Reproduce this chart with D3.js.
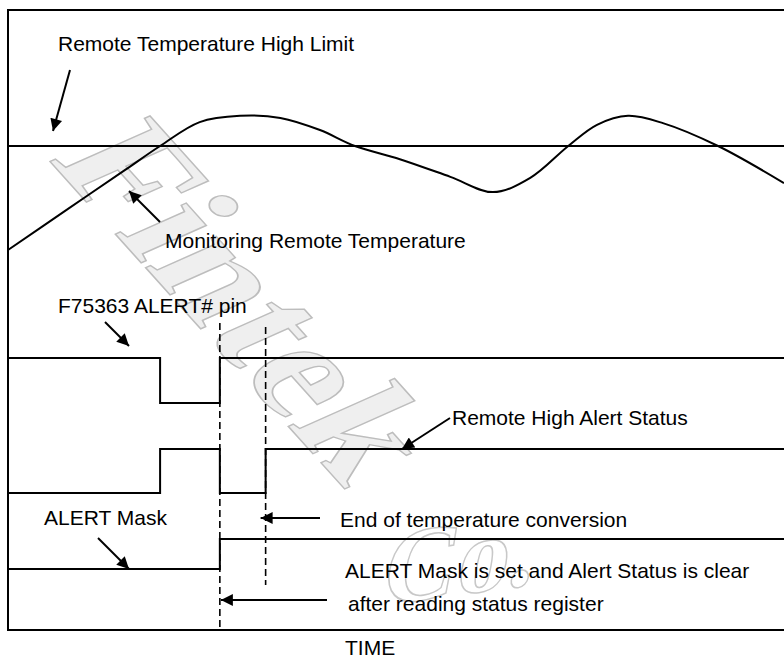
<!DOCTYPE html>
<html>
<head>
<meta charset="utf-8">
<script src="https://cdn.jsdelivr.net/npm/d3@7"></script>
<style>
  body { margin: 0; background: #fff; }
  text.label { font-family: "Liberation Sans", Arial, sans-serif; font-size: 21px; fill: #000; }
  text.wm { font-family: "Liberation Serif", "DejaVu Serif", serif; font-weight: bold; fill: #efefef; stroke: #bdbdbd; stroke-width: 1.5px; }
</style>
</head>
<body>
<div id="chart"></div>
<script>
// time runs 0..100 across the plot
var tempTimes = [0, 7.5, 15.1, 19.6, 24.7, 29.9, 35.1, 40.2, 44.7, 50.5, 57, 62.5, 67.3, 72.2, 75.9, 79.9, 84.4, 91.5, 100];
var tempValues = [50, 61.5, 73.1, 80, 86.9, 88.7, 88.1, 84.6, 80, 76.2, 71.1, 66.7, 70.8, 80, 86.1, 88.7, 86.6, 80, 69.3];
var highLimit = 80;

// digital signals: edge times and the level held after each edge
var pinTimes = [0, 19.6, 27.3, 100];
var pinLevels = [1, 0, 1, 1];
var statusTimes = [0, 19.6, 27.3, 33.2, 100];
var statusLevels = [0, 1, 0, 1, 1];
var maskTimes = [0, 27.3, 100];
var maskLevels = [0, 1, 1];

var readTime = 27.3, convTime = 33.2;

var labels = ["Remote Temperature High Limit", "Monitoring Remote Temperature", "F75363 ALERT# pin",
  "Remote High Alert Status", "ALERT Mask", "End of temperature conversion",
  "ALERT Mask is set and Alert Status is clear", "after reading status register", "TIME"];

var width = 784, height = 661;
var svg = d3.select("#chart").append("svg").attr("width", width).attr("height", height);

var defs = svg.append("defs");
defs.append("marker").attr("id", "head")
  .attr("viewBox", "0 0 10 10").attr("refX", 10).attr("refY", 5)
  .attr("markerUnits", "userSpaceOnUse")
  .attr("markerWidth", 15).attr("markerHeight", 12)
  .attr("orient", "auto")
  .append("path").attr("d", "M0,0 L10,5 L0,10 Z").attr("fill", "#000");

// watermark (slanted by hand, script look)
svg.append("text").attr("class", "wm").text("Fintek")
  .attr("transform", "translate(250,300) rotate(48) skewX(-18)")
  .attr("text-anchor", "middle").attr("dy", "0.35em")
  .style("font-size", "160px");
svg.append("text").attr("class", "wm").text("Co.")
  .attr("transform", "translate(455,595) rotate(-8) skewX(-18)")
  .attr("text-anchor", "middle")
  .style("font-size", "105px").style("fill", "none").style("stroke", "#c8c8c8");

var x = d3.scaleLinear().domain([0, 100]).range([8, 784]);
var tempY = d3.scaleLinear().domain([50, 80]).range([250, 146]);
var pinY = d3.scaleLinear().domain([0, 1]).range([403, 358]);
var statusY = d3.scaleLinear().domain([0, 1]).range([493, 449]);
var maskY = d3.scaleLinear().domain([0, 1]).range([569, 539]);

var frameLeft = x(0), frameTop = 10, frameBottom = 630;

// frame (open on the right)
svg.append("path")
  .attr("d", "M" + width + "," + frameTop + "H" + frameLeft + "V" + frameBottom + "H" + width)
  .attr("fill", "none").attr("stroke", "#000").attr("stroke-width", 2);

// high limit
svg.append("line")
  .attr("x1", frameLeft).attr("x2", width)
  .attr("y1", tempY(highLimit)).attr("y2", tempY(highLimit))
  .attr("stroke", "#000").attr("stroke-width", 2);

// temperature curve
var tempLine = d3.line().x(function(d, i) { return x(tempTimes[i]); }).y(function(d) { return tempY(d); })
  .curve(d3.curveCatmullRom.alpha(0.5));
svg.append("path").datum(tempValues).attr("d", tempLine)
  .attr("fill", "none").attr("stroke", "#000").attr("stroke-width", 2);

function drawSignal(times, levels, yScale) {
  var line = d3.line().x(function(d, i) { return x(times[i]); }).y(function(d) { return yScale(d); })
    .curve(d3.curveStepAfter);
  svg.append("path").datum(levels).attr("d", line)
    .attr("fill", "none").attr("stroke", "#000").attr("stroke-width", 2);
}
drawSignal(pinTimes, pinLevels, pinY);
drawSignal(statusTimes, statusLevels, statusY);
drawSignal(maskTimes, maskLevels, maskY);

// dashed markers
svg.append("line").attr("x1", x(readTime)).attr("x2", x(readTime)).attr("y1", 323).attr("y2", frameBottom)
  .attr("stroke", "#000").attr("stroke-width", 1.6).attr("stroke-dasharray", "7,4");
svg.append("line").attr("x1", x(convTime)).attr("x2", x(convTime)).attr("y1", 327).attr("y2", 585)
  .attr("stroke", "#000").attr("stroke-width", 1.6).attr("stroke-dasharray", "7,4");

// annotation arrows
var arrows = [
  [70, 70, 53, 131],
  [160, 222, 129, 191],
  [105, 322, 129, 346],
  [450, 418, 402, 449],
  [98, 538, 129, 569],
  [320, 518, x(convTime) - 5, 518],
  [327, 600, x(readTime) + 1, 600]
];
svg.selectAll("line.arrow").data(arrows).enter().append("line").attr("class", "arrow")
  .attr("x1", function(d) { return d[0]; }).attr("y1", function(d) { return d[1]; })
  .attr("x2", function(d) { return d[2]; }).attr("y2", function(d) { return d[3]; })
  .attr("stroke", "#000").attr("stroke-width", 2).attr("marker-end", "url(#head)");

var labelPos = [[58, 51], [165, 248], [58, 313], [452, 425], [44, 525], [340, 527], [345, 578], [348, 611], [345, 655]];
svg.selectAll("text.label").data(labels).enter().append("text").attr("class", "label")
  .attr("x", function(d, i) { return labelPos[i][0]; })
  .attr("y", function(d, i) { return labelPos[i][1]; })
  .text(function(d) { return d; });
</script>
</body>
</html>
